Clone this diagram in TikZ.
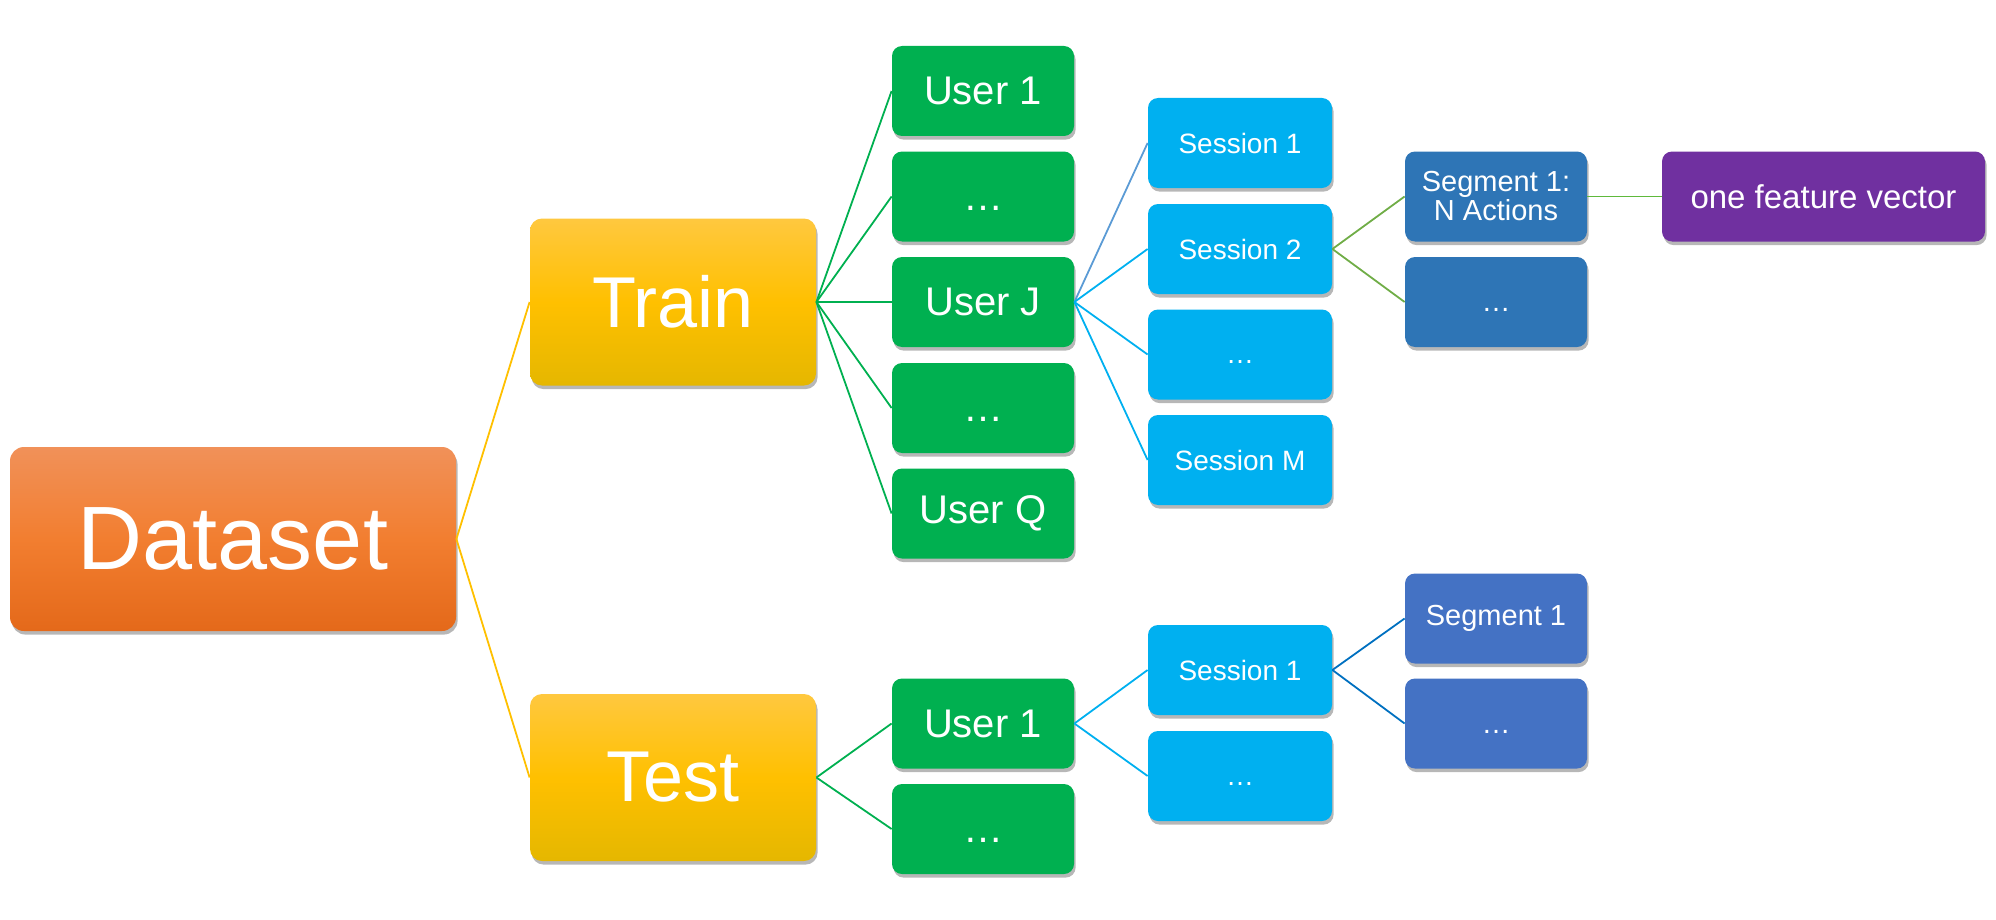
\documentclass[tikz,border=0pt]{standalone}
\usepackage{fontspec}
\setmainfont{Liberation Sans}
\usepackage{tikz}
\usetikzlibrary{shadows}

\definecolor{dstop}{HTML}{F19159}
\definecolor{dsmid}{HTML}{F27E30}
\definecolor{dsbot}{HTML}{E4691A}
\definecolor{goldtop}{HTML}{FFC83F}
\definecolor{goldmid}{HTML}{FFC000}
\definecolor{goldbot}{HTML}{E5B700}
\definecolor{usergreen}{HTML}{00B050}
\definecolor{sessblue}{HTML}{00B0F0}
\definecolor{segblue}{HTML}{2E75B6}
\definecolor{tsegblue}{HTML}{4472C4}
\definecolor{featpurple}{HTML}{7030A0}
\definecolor{steelline}{HTML}{5B9BD5}
\definecolor{oliveline}{HTML}{70AD47}
\definecolor{darkline}{HTML}{0070C0}

\newcommand{\more}{\vphantom{U}…}

\begin{document}
\begin{tikzpicture}[x=0.5pt,y=-0.5pt,
  every node/.style={rounded corners=5pt, text=white, align=center, inner sep=0pt,
        drop shadow={shadow xshift=0.8pt, shadow yshift=-1.8pt, opacity=0.4, fill=black!70}},
  box/.style={minimum width=91pt, minimum height=45pt},
  rootnode/.style={minimum width=223pt, minimum height=92pt, rounded corners=7pt,
        top color=dstop, bottom color=dsbot, middle color=dsmid,
        font=\fontsize{45}{50}\selectfont},
  splitnode/.style={minimum width=143pt, minimum height=83.5pt, rounded corners=6pt,
        top color=goldtop, bottom color=goldbot, middle color=goldmid,
        font=\fontsize{36}{40}\selectfont},
  usernode/.style={box, fill=usergreen, font=\fontsize{20}{24}\selectfont},
  sessnode/.style={box, minimum width=92pt, fill=sessblue, font=\fontsize{14}{17}\selectfont},
  segnode/.style={box, fill=segblue, font=\fontsize{14.5}{14.5}\selectfont},
  tsegnode/.style={box, fill=tsegblue, font=\fontsize{14.5}{17}\selectfont},
  featnode/.style={box, minimum width=161.5pt, fill=featpurple, font=\fontsize{16.5}{20}\selectfont},
  link/.style={line width=0.9pt}]

\useasboundingbox (0,0) rectangle (1996,920);

% root and split
\node (data) [rootnode] at (233,539) {Dataset};
\node (train) [splitnode] at (673,302) {Train};
\node (test) [splitnode] at (673,777.5) {Test};

% train users
\node (u1) [usernode] at (983,91) {User 1};
\node (u2) [usernode] at (983,196.5) {\more};
\node (uj) [usernode] at (983,302) {User J};
\node (u4) [usernode] at (983,408) {\more};
\node (uq) [usernode] at (983,513.5) {User Q};

% sessions of user J
\node (s1) [sessnode] at (1240,143) {Session 1};
\node (s2) [sessnode] at (1240,249) {Session 2};
\node (s3) [sessnode] at (1240,354.5) {\more};
\node (sm) [sessnode] at (1240,460) {Session M};

% segments of session 2
\node (g1) [segnode] at (1496,196.5) {Segment 1:\\N Actions};
\node (g2) [segnode] at (1496,302) {\more};
\node (fv) [featnode] at (1823.5,196.5) {one feature vector};

% test branch
\node (tu1) [usernode] at (983,723.5) {User 1};
\node (tu2) [usernode] at (983,829) {\more};
\node (ts1) [sessnode] at (1240,670) {Session 1};
\node (ts2) [sessnode] at (1240,776) {\more};
\node (tg1) [tsegnode] at (1496,618.5) {Segment 1};
\node (tg2) [tsegnode] at (1496,723.5) {\more};

% connectors
\draw [link, goldmid] (data.east) -- (train.west);
\draw [link, goldmid] (data.east) -- (test.west);
\foreach \u in {u1,u2,uj,u4,uq}
  \draw [link, usergreen] (train.east) -- (\u.west);
\draw [link, steelline] (uj.east) -- (s1.west);
\foreach \s in {s2,s3,sm}
  \draw [link, sessblue] (uj.east) -- (\s.west);
\draw [link, oliveline] (s2.east) -- (g1.west);
\draw [link, oliveline] (s2.east) -- (g2.west);
\draw [link, oliveline!85!green] (g1.east) -- (fv.west);

\draw [link, usergreen] (test.east) -- (tu1.west);
\draw [link, usergreen] (test.east) -- (tu2.west);
\draw [link, sessblue] (tu1.east) -- (ts1.west);
\draw [link, sessblue] (tu1.east) -- (ts2.west);
\draw [link, darkline] (ts1.east) -- (tg1.west);
\draw [link, darkline] (ts1.east) -- (tg2.west);

\end{tikzpicture}
\end{document}
